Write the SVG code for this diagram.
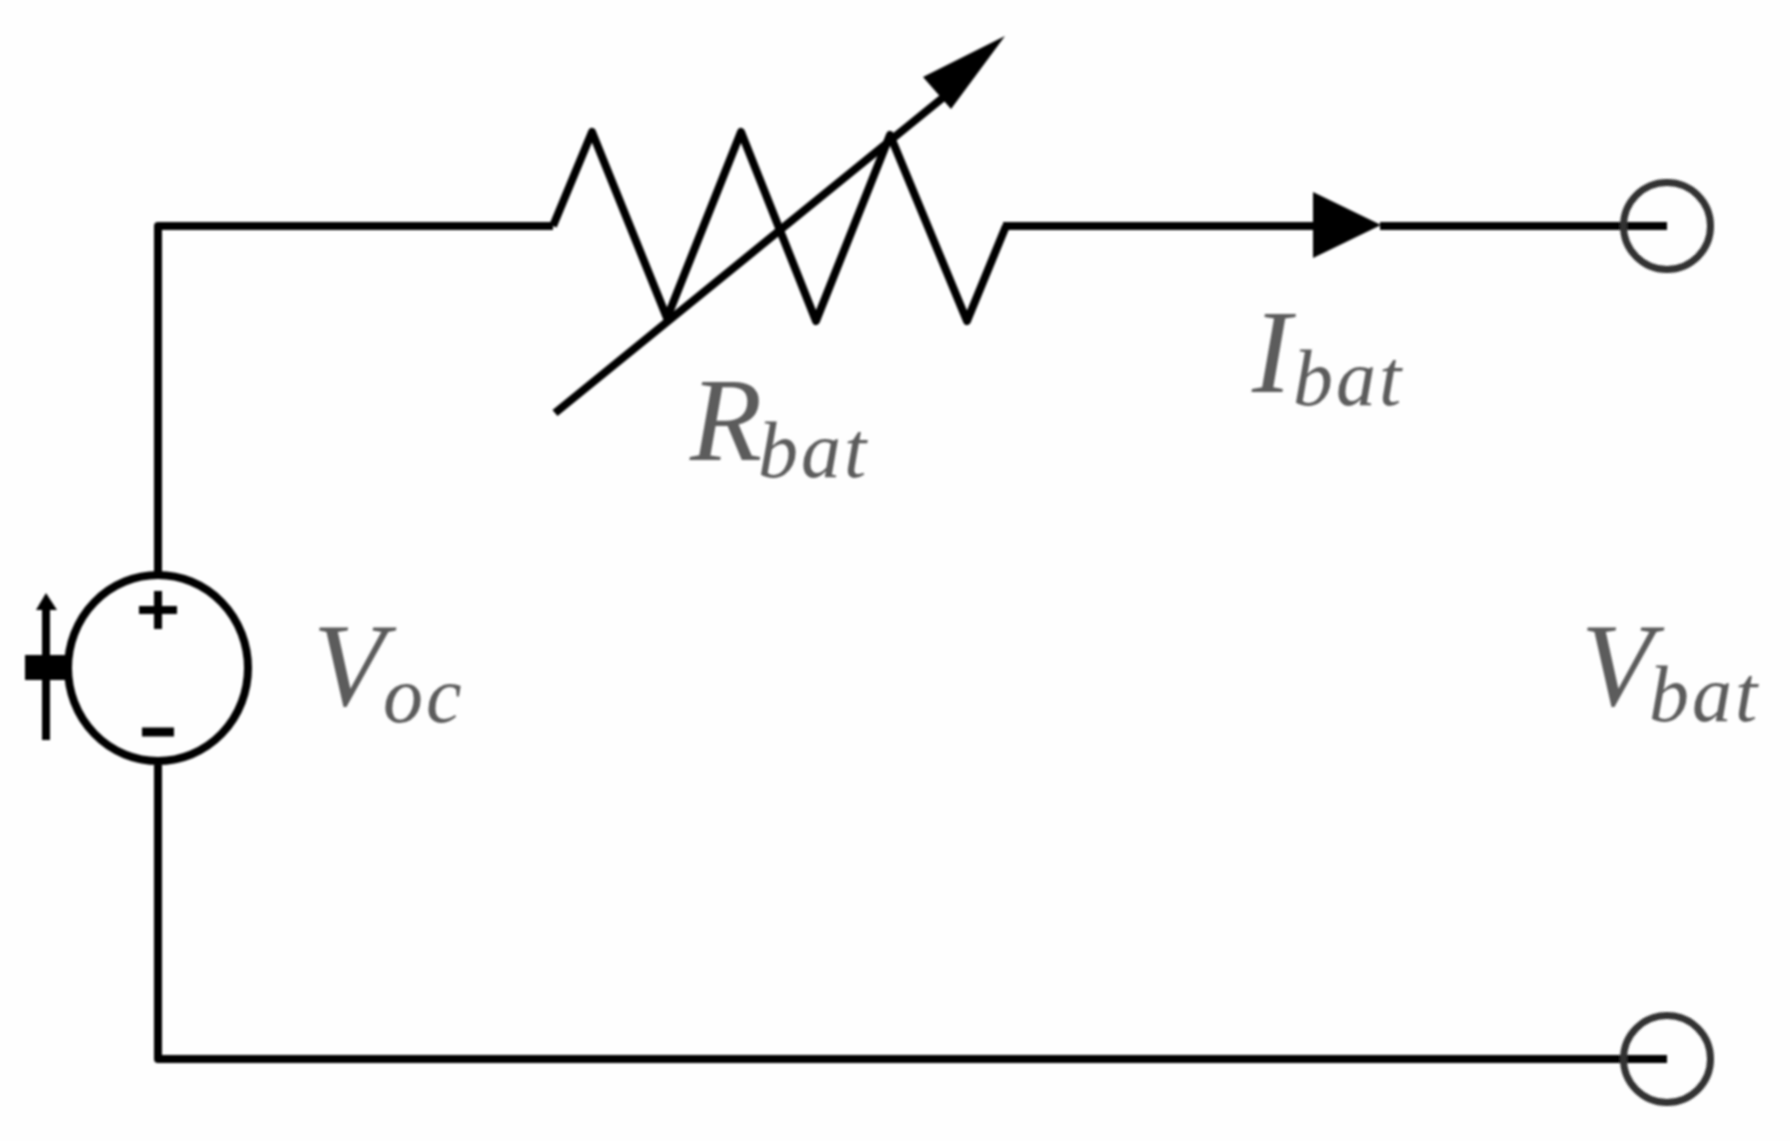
<svg xmlns="http://www.w3.org/2000/svg" width="1790" height="1141" viewBox="0 0 1790 1141">
<style>
.w{fill:none;stroke:#000;stroke-width:8;stroke-linejoin:round;stroke-linecap:butt}
.t{stroke:#333;stroke-width:7;fill:none}
.f{fill:#000}
.m{font-family:"Liberation Serif","Times New Roman",serif;font-style:italic;fill:#5c5c5c;font-size:118px}
.s{font-size:80px;letter-spacing:3px}
</style>
<defs><filter id="b" x="-5%" y="-5%" width="110%" height="110%"><feGaussianBlur stdDeviation="1"/></filter></defs>
<rect width="1790" height="1141" fill="#fefefe"/>
<g filter="url(#b)">
<g id="connectors">
<path class="w" d="M553 226H158V572"/>
<path class="w" d="M158 765V1059H1667"/>
<path class="w" d="M1003 226H1320"/>
<path class="w" d="M1380 226H1667"/>
</g>
<g id="resistor">
<path class="w" d="M553 226L592 132L667 318L741 132L816 321L890 135L967 321L1006 226"/>
<path class="w" d="M555 413L945 96"/>
<path class="f" d="M1005 36L923 77L951 109Z"/>
</g>
<g id="current-arrow"><path class="f" d="M1313 192L1381 225L1313 258Z"/></g>
<g id="source">
<ellipse class="w" cx="158" cy="668" rx="90" ry="93"/>
<path class="w" d="M139 610H177M158 591V629"/>
<path class="w" style="stroke-width:9" d="M142 732H174"/>
<path class="w" d="M46 605V740"/>
<path class="f" d="M46 593L57 610H36Z"/>
<rect class="f" x="25" y="655" width="43" height="25"/>
</g>
<g id="terminal-top"><circle class="t" cx="1667" cy="226" r="43.5"/></g>
<g id="terminal-bottom"><circle class="t" cx="1667" cy="1059" r="43.5"/></g>
<g id="label-rbat"><text class="m" x="690" y="460">R</text><text class="m s" x="758" y="477">bat</text></g>
<g id="label-ibat"><text class="m" x="1252" y="392">I</text><text class="m s" x="1293" y="405">bat</text></g>
<g id="label-voc"><text class="m" x="313" y="705">V</text><text class="m s" x="383" y="722">oc</text></g>
<g id="label-vbat"><text class="m" x="1581" y="705">V</text><text class="m s" x="1649" y="721">bat</text></g>
</g>
</svg>
